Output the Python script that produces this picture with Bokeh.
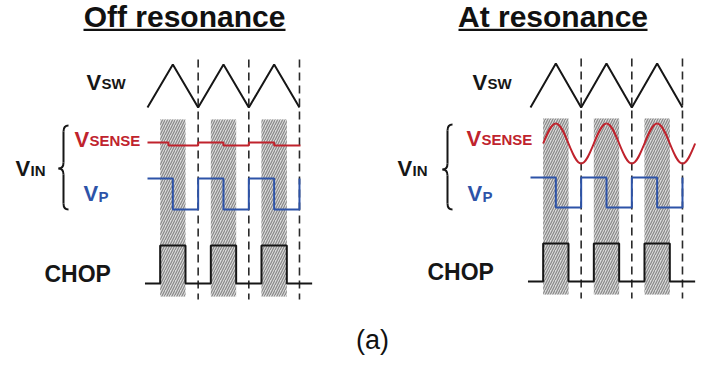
import numpy as np
from bokeh.plotting import figure
from bokeh.models import Range1d
from bokeh.core.properties import value
from bokeh.embed import file_html
from bokeh.resources import INLINE

# ---- signal data (time in half-periods of the sweep) ----
SWEEP_T = [0, 1, 2, 3, 4, 5, 6]
SWEEP_V = [0, 1, 0, 1, 0, 1, 0]

VP_T = [0, 1, 2, 3, 4, 5, 6]
VP_V = [1, 0, 1, 0, 1, 0, 1]

CHOP_T = [-0.1, 0.5, 1.5, 2.5, 3.5, 4.5, 5.5, 6.5]
CHOP_V = [0, 1, 0, 1, 0, 1, 0, 0]

CHOP_ON = [0.5, 2.5, 4.5]
CHOP_OFF = [1.5, 3.5, 5.5]

SYNC_T = [2, 4, 6]

SENSE_OFF_T = [0, 0.83, 2, 3, 4, 5, 6.04]
SENSE_OFF_V = [0.05, -0.1, 0.05, -0.1, 0.05, -0.1, -0.1]

SENSE_RES_T = [0.5, 1, 2, 3, 4, 5, 6, 6.5]
SENSE_RES_V = [0, 1, -1, 1, -1, 1, -1, 0]

# ---- style ----
FONT = value("Liberation Sans")
BLACK = "#161616"
RED = "#c0232d"
BLUE = "#2d53a8"
DASH = "#2a2a2a"
HP = 25.33      # pixels per half-period
TEXT_DY = -9.5  # baseline correction for the svg text renderer

W, H = 713, 365

PANELS = [
    dict(title="Off resonance", tcx=184, ul=(83, 285), x0=147,
         sweep=(107, 64), sense=(143, 123), vp=(209, 178), chop=(283, 245),
         shade=(119, 296), sync=(59, 299),
         sense_t=SENSE_OFF_T, sense_v=SENSE_OFF_V, smooth=False,
         vsw=(86, 91), vsense=(74, 148), vin=(15, 177), vpl=(83, 202),
         chopl=(44, 283), brace=(63, 125, 168, 209)),
    dict(title="At resonance", tcx=552.5, ul=(458, 647), x0=530,
         sweep=(107, 63), sense=(143, 123), vp=(207, 177), chop=(281, 243),
         shade=(118, 294), sync=(58, 298),
         sense_t=SENSE_RES_T, sense_v=SENSE_RES_V, smooth=True,
         vsw=(472, 91), vsense=(466, 147), vin=(397, 177), vpl=(467, 202),
         chopl=(427, 281), brace=(447, 124, 169, 209)),
]

p = figure(width=W, height=H, x_range=Range1d(0, W), y_range=Range1d(H, 0),
           x_axis_type=None, y_axis_type=None, toolbar_location=None,
           output_backend="svg", min_border=0)
p.grid.visible = False
p.outline_line_color = None
p.background_fill_color = "white"
p.border_fill_color = "white"


def tx(panel, t):
    return panel["x0"] + np.asarray(t, dtype=float) * HP


def ly(lane, v):
    y0, y1 = lane
    return y0 + (y1 - y0) * np.asarray(v, dtype=float)


def smooth_segments(ts, vs):
    """Cubic Bezier pieces of a sinusoid passing through zero crossings and extrema."""
    k_half = 1 - 2 / np.pi
    segs = []
    for i in range(len(ts) - 1):
        t0, t1 = ts[i], ts[i + 1]
        v0, v1 = vs[i], vs[i + 1]
        dt = t1 - t0
        if v0 == 0:          # from the mid-line into an extremum
            c0 = (t0 + dt / 3, v1 * np.pi / 6)
            c1 = (t1 - 0.36 * dt, v1)
        elif v1 == 0:        # from an extremum back to the mid-line
            c0 = (t0 + 0.36 * dt, v0)
            c1 = (t1 - dt / 3, v0 * np.pi / 6)
        else:                # extremum to opposite extremum
            c0 = (t0 + k_half * dt, v0)
            c1 = (t1 - k_half * dt, v1)
        segs.append((t0, v0, t1, v1, c0, c1))
    return segs


def label(x, y, text, size, color=BLACK, style="bold", align="left"):
    p.text(x=[x], y=[y + TEXT_DY], text=[text], text_font=FONT, text_font_style=style,
           text_font_size=value(size), text_color=color,
           text_baseline="alphabetic", text_align=align)


def vlabel(pos, sub, color=BLACK, sub_drop=1):
    x, y = pos
    label(x, y, "V", "22px", color)
    label(x + 15, y + sub_drop, sub, "15px", color)


def brace(x, top, mid, bottom):
    hook, r = 5, 6
    kw = dict(line_color=BLACK, line_width=2)
    p.quadratic(x0=[x + hook, x, x - hook, x], y0=[top, mid - r, mid, bottom - r],
                x1=[x, x - hook, x, x + hook], y1=[top + r, mid, mid + r, bottom],
                cx=[x, x, x, x], cy=[top, mid, mid, bottom], **kw)
    p.segment(x0=[x, x], y0=[top + r, mid + r], x1=[x, x], y1=[mid - r, bottom - r], **kw)


for pn in PANELS:
    # title with underline
    label(pn["tcx"], 25, pn["title"], "30px", "#111111", align="center")
    p.segment(x0=[pn["ul"][0]], y0=[29.3], x1=[pn["ul"][1]], y1=[29.3],
              line_color="#111111", line_width=2.2)

    # chopping windows (hatched)
    p.quad(left=tx(pn, CHOP_ON), right=tx(pn, CHOP_OFF),
           top=[pn["shade"][0]] * len(CHOP_ON), bottom=[pn["shade"][1]] * len(CHOP_ON),
           fill_color="#dadada", line_color=None,
           hatch_pattern="/", hatch_color="#878787", hatch_scale=5, hatch_weight=1.2)

    # synchronisation markers at the sweep minima
    sx = tx(pn, SYNC_T)
    p.segment(x0=sx, y0=[pn["sync"][0]] * len(SYNC_T), x1=sx, y1=[pn["sync"][1]] * len(SYNC_T),
              line_color=DASH, line_width=1.6, line_dash="8 5")

    # sweep triangle
    p.line(tx(pn, SWEEP_T), ly(pn["sweep"], SWEEP_V), line_color=BLACK, line_width=2)

    # sense signal
    if pn["smooth"]:
        segs = smooth_segments(pn["sense_t"], pn["sense_v"])
        p.bezier(x0=[tx(pn, s[0]) for s in segs], y0=[ly(pn["sense"], s[1]) for s in segs],
                 x1=[tx(pn, s[2]) for s in segs], y1=[ly(pn["sense"], s[3]) for s in segs],
                 cx0=[tx(pn, s[4][0]) for s in segs], cy0=[ly(pn["sense"], s[4][1]) for s in segs],
                 cx1=[tx(pn, s[5][0]) for s in segs], cy1=[ly(pn["sense"], s[5][1]) for s in segs],
                 line_color=RED, line_width=2)
    else:
        p.step(tx(pn, pn["sense_t"]), ly(pn["sense"], pn["sense_v"]), mode="after",
               line_color=RED, line_width=2)

    # V_P square wave
    p.step(tx(pn, VP_T), ly(pn["vp"], VP_V), mode="after", line_color=BLUE, line_width=2)

    # CHOP clock
    p.step(tx(pn, CHOP_T), ly(pn["chop"], CHOP_V), mode="after", line_color=BLACK, line_width=2)

    # signal names
    vlabel(pn["vsw"], "SW")
    vlabel(pn["vsense"], "SENSE", RED)
    vlabel(pn["vin"], "IN", sub_drop=2)
    vlabel(pn["vpl"], "P", BLUE, sub_drop=3)
    label(pn["chopl"][0], pn["chopl"][1], "CHOP", "23px")
    bx, btop, bmid, bbot = pn["brace"]
    brace(bx, btop, bmid, bbot)

label(372, 349, "(a)", "27px", "#111111", style="normal", align="center")

open("out.html", "w").write(file_html(p, INLINE))
